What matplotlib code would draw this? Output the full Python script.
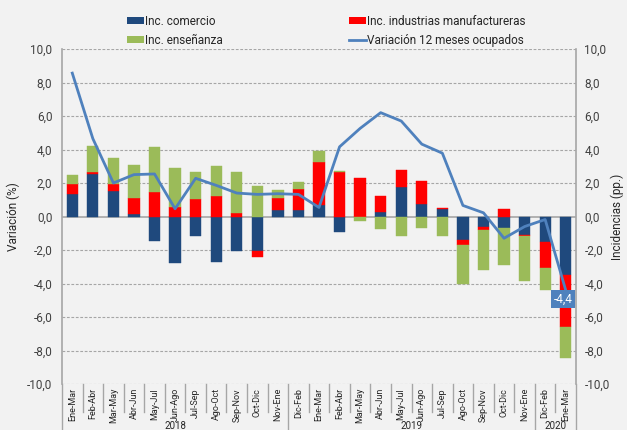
import matplotlib
matplotlib.use("Agg")
import matplotlib.pyplot as plt
import matplotlib.transforms as mtransforms
from matplotlib.patches import Patch
from matplotlib.lines import Line2D
import numpy as np

plt.rcParams['font.family'] = ['Roboto', 'DejaVu Sans']

categories = ["Ene-Mar", "Feb-Abr", "Mar-May", "Abr-Jun", "May-Jul", "Jun-Ago", "Jul-Sep",
              "Ago-Oct", "Sep-Nov", "Oct-Dic", "Nov-Ene",
              "Dic-Feb", "Ene-Mar", "Feb-Abr", "Mar-May", "Abr-Jun", "May-Jul", "Jun-Ago",
              "Jul-Sep", "Ago-Oct", "Sep-Nov", "Oct-Dic", "Nov-Ene",
              "Dic-Feb", "Ene-Mar"]
years = ["2018", "2019", "2020"]
year_counts = [11, 12, 2]

comercio = [1.36, 2.52, 1.50, 0.14, -1.48, -2.78, -1.14, -2.74, -2.06, -2.06, 0.38,
            0.38, 0.66, -0.92, 0.0, 0.26, 1.78, 0.74, 0.46, -1.38, -0.60, -0.70, -1.10,
            -1.54, -3.48]
industrias = [0.56, 0.12, 0.42, 0.94, 1.44, 0.54, 1.06, 1.24, 0.22, -0.34, 0.70,
              1.28, 2.58, 2.64, 2.28, 0.94, 1.00, 1.40, 0.06, -0.32, -0.18, 0.46, -0.04,
              -1.54, -3.12]
ensenanza = [0.58, 1.54, 1.58, 2.00, 2.72, 2.36, 1.62, 1.78, 2.46, 1.80, 0.52,
             0.38, 0.68, 0.05, -0.26, -0.72, -1.14, -0.66, -1.18, -2.32, -2.44, -2.20, -2.70,
             -1.32, -1.82]
ocupados = [8.56, 4.65, 2.00, 2.50, 2.54, 0.46, 2.28, 1.86, 1.40, 1.32, 1.36,
            1.32, 0.54, 4.16, 5.26, 6.20, 5.70, 4.32, 3.78, 0.66, 0.22, -1.30, -0.60,
            -0.18, -4.40]

series = [("Inc. comercio", comercio, "#1F497D"),
          ("Inc. industrias manufactureras", industrias, "#FF0000"),
          ("Inc. enseñanza", ensenanza, "#9BBB59")]
line_label = "Variación 12 meses ocupados"
line_color = "#4F81BD"

bg = "#F2F2F2"
fig = plt.figure(figsize=(6.27, 4.30), dpi=100, facecolor=bg)
W, H = 627, 430
L, R, T, B = 62, 576, 49, 384
ax = fig.add_axes([L / W, 1 - B / H, (R - L) / W, (B - T) / H])
ax.set_facecolor(bg)

x = np.arange(len(categories))
pos_bottom = np.zeros(len(x))
neg_bottom = np.zeros(len(x))
for name, vals, col in series:
    v = np.array(vals, dtype=float)
    bottoms = np.where(v >= 0, pos_bottom, neg_bottom)
    ax.bar(x, v, 0.55, bottom=bottoms, color=col, edgecolor=col, linewidth=0.3, zorder=3)
    pos_bottom = pos_bottom + np.where(v >= 0, v, 0)
    neg_bottom = neg_bottom + np.where(v < 0, v, 0)

ax.set_xlim(-0.5, len(x) - 0.5)
ax.set_ylim(-10, 10)
yt = np.arange(-10, 10.1, 2)
ax.set_yticks(yt)
ax.set_yticklabels([f"{t:.1f}".replace(".", ",") for t in yt], fontsize=8.5, color="#404040")
for t in yt:
    if t != 0:
        ax.axhline(t, color="#A6A6A6", linestyle=(0, (2.5, 1.5)), linewidth=0.8, zorder=1)
ax.axhline(0, color="#A6A6A6", linewidth=1.2, zorder=2)
ax.tick_params(axis='y', length=0, pad=7)
ax.set_xticks([])
for s in ["top", "bottom"]:
    ax.spines[s].set_visible(False)
ax.spines["left"].set_color("#A6A6A6")
ax.spines["left"].set_linewidth(1.2)
ax.spines["right"].set_color("#A6A6A6")
ax.spines["right"].set_linewidth(1.2)
ax.set_ylabel("Variación (%)", fontsize=8.5, color="#262626", labelpad=5)

ax2 = ax.twinx()
ax2.set_ylim(-10, 10)
ax2.set_yticks(yt)
ax2.set_yticklabels([f"{t:.1f}".replace(".", ",") for t in yt], fontsize=8.5, color="#404040")
ax2.tick_params(axis='y', length=0, pad=6)
for s in ["top", "bottom", "left", "right"]:
    ax2.spines[s].set_visible(False)
ax2.set_ylabel("Incidencias (pp.)", fontsize=8.5, color="#262626", labelpad=1)
ax2.plot(x, ocupados, color=line_color, linewidth=2.0, zorder=5)
ax2.annotate(f"{ocupados[-1]:.1f}".replace(".", ","), xy=(x[-1], ocupados[-1]),
             xytext=(-3, -9), textcoords="offset pixels", ha="center", va="center",
             fontsize=8.5, color="white",
             bbox=dict(boxstyle="square,pad=0.2", facecolor=line_color, edgecolor="none"))

# category labels and separators
trans = mtransforms.blended_transform_factory(ax.transData, ax.transAxes)
ax_h = B - T
for i, c in enumerate(categories):
    ax.text(i, -4 / ax_h, c, rotation=90, ha="center", va="top", fontsize=6.5,
            color="#262626", transform=trans)
boundaries = np.cumsum([0] + year_counts)
for b in range(len(categories) + 1):
    xb = b - 0.5
    if b in boundaries:
        y1 = -(430 - B) / ax_h
    else:
        y1 = -(412 - B) / ax_h
    ax.plot([xb, xb], [0, y1], color="#A6A6A6", linewidth=1.0, transform=trans,
            clip_on=False, zorder=1)
for yr, s0, n in zip(years, boundaries[:-1], year_counts):
    ax.text(s0 + (n - 1) / 2, -(421 - B) / ax_h, yr, ha="center", va="top", fontsize=7,
            color="#262626", transform=trans)

# legends
h1 = [Patch(facecolor=series[0][2]), Patch(facecolor=series[2][2])]
h2 = [Patch(facecolor=series[1][2]), Line2D([0], [0], color=line_color, linewidth=2)]
common = dict(frameon=False, fontsize=8.5, handlelength=1.4, handleheight=0.55,
              handletextpad=0.1, labelspacing=0.5, borderaxespad=0, borderpad=0,
              labelcolor="#262626")
fig.legend(h1, [series[0][0], series[2][0]], loc="upper left",
           bbox_to_anchor=(127 / W, 1 - 15 / H), **common)
fig.legend(h2, [series[1][0], line_label], loc="upper left",
           bbox_to_anchor=(349 / W, 1 - 15 / H), **common)

fig.savefig("out.png", dpi=100, facecolor=bg)
